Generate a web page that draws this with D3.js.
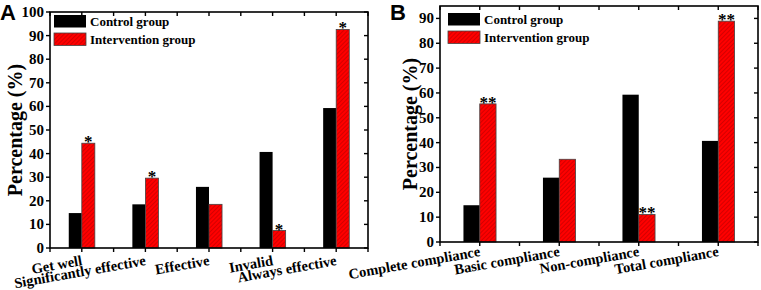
<!DOCTYPE html>
<html>
  <head>
    <style>
      body { margin: 0; background: #fff; }
      svg { display: block; }
    </style>
  </head>
  <body>
    <script src="https://d3js.org/d3.v7.min.js"></script>
    <script>
      // panel A
      const catsA = ['Get well', 'Significantly effective', 'Effective', 'Invalid', 'Always effective'];
      const controlA = [14.8, 18.5, 25.9, 40.7, 59.3];
      const interventionA = [44.4, 29.6, 18.5, 7.4, 92.6];
      const starsA = ['*', '*', '', '*', '*'];
      const ticksA = [0, 10, 20, 30, 40, 50, 60, 70, 80, 90, 100];

      // panel B
      const catsB = ['Complete compliance', 'Basic compliance', 'Non-compliance', 'Total compliance'];
      const controlB = [14.8, 25.9, 59.3, 40.7];
      const interventionB = [55.6, 33.3, 11.1, 88.9];
      const starsB = ['**', '', '**', '**'];
      const ticksB = [0, 10, 20, 30, 40, 50, 60, 70, 80, 90];

      const seriesNames = ['Control group', 'Intervention group'];

      const SERIF = '"Liberation Serif", "Times New Roman", Times, serif';
      const SANS = '"Liberation Sans", Arial, sans-serif';

      const svg = d3.select('body').append('svg')
        .attr('width', 761)
        .attr('height', 290);

      const pat = svg.append('defs').append('pattern')
        .attr('id', 'hatch')
        .attr('patternUnits', 'userSpaceOnUse')
        .attr('width', 3)
        .attr('height', 3)
        .attr('patternTransform', 'rotate(45)');
      pat.append('rect').attr('width', 3).attr('height', 3).attr('fill', '#ff0000');
      pat.append('line')
        .attr('x1', 0).attr('y1', 0).attr('x2', 0).attr('y2', 3)
        .attr('stroke', '#a00000').attr('stroke-width', 0.9);

      function txt(sel, size) {
        return sel.style('font-family', SERIF)
          .style('font-weight', 'bold')
          .style('font-size', size + 'px')
          .attr('fill', '#000');
      }

      function drawPanel(opt) {
        const { letter, cats, control, intervention, stars, ticks, yMax,
                left, right, top, bottom, labelGap, titleGap, legendX, legendY } = opt;

        const g = svg.append('g');

        const x = d3.scaleBand().domain(cats).range([left, right]).padding(0);
        const y = d3.scaleLinear().domain([0, yMax]).range([bottom, top]);
        const step = x.step();
        const bw = step * 0.205;
        const cx = c => x(c) + step / 2;

        // bars
        g.selectAll('rect.ctrl')
          .data(cats)
          .join('rect')
          .attr('class', 'ctrl')
          .attr('x', d => cx(d) - bw)
          .attr('y', (d, i) => y(control[i]))
          .attr('width', bw)
          .attr('height', (d, i) => y(0) - y(control[i]))
          .attr('fill', '#000');

        g.selectAll('rect.intv')
          .data(cats)
          .join('rect')
          .attr('class', 'intv')
          .attr('x', d => cx(d))
          .attr('y', (d, i) => y(intervention[i]))
          .attr('width', bw)
          .attr('height', (d, i) => y(0) - y(intervention[i]))
          .attr('fill', 'url(#hatch)')
          .attr('stroke', '#444')
          .attr('stroke-width', 0.8);

        txt(g.selectAll('text.star')
          .data(cats)
          .join('text')
          .attr('class', 'star')
          .attr('text-anchor', 'middle')
          .attr('x', d => cx(d) + bw / 2)
          .attr('y', (d, i) => y(intervention[i]) + 4)
          .text((d, i) => stars[i]), 17);

        // frame
        g.append('rect')
          .attr('x', left).attr('y', top)
          .attr('width', right - left).attr('height', bottom - top)
          .attr('fill', 'none').attr('stroke', '#000').attr('stroke-width', 1.6);

        // y ticks: outward on the left, inward on the right
        ticks.forEach(t => {
          g.append('line')
            .attr('x1', left - 4).attr('x2', left)
            .attr('y1', y(t)).attr('y2', y(t))
            .attr('stroke', '#000').attr('stroke-width', 1.4);
          g.append('line')
            .attr('x1', right - 4).attr('x2', right)
            .attr('y1', y(t)).attr('y2', y(t))
            .attr('stroke', '#000').attr('stroke-width', 1.4);
          txt(g.append('text')
            .attr('x', left - 6)
            .attr('y', y(t) + 5)
            .attr('text-anchor', 'end')
            .text(t), 15);
        });

        // x ticks at centres and half steps
        const xTickPos = [];
        cats.forEach(c => { xTickPos.push(x(c)); xTickPos.push(cx(c)); });
        xTickPos.push(right);
        xTickPos.forEach(p => {
          g.append('line')
            .attr('x1', p).attr('x2', p)
            .attr('y1', bottom).attr('y2', bottom + 4)
            .attr('stroke', '#000').attr('stroke-width', 1.4);
          g.append('line')
            .attr('x1', p).attr('x2', p)
            .attr('y1', top).attr('y2', top + 4)
            .attr('stroke', '#000').attr('stroke-width', 1.4);
        });

        // category labels, tilted
        txt(g.selectAll('text.cat')
          .data(cats)
          .join('text')
          .attr('class', 'cat')
          .attr('text-anchor', 'end')
          .attr('transform', d => `translate(${cx(d) + 1},${bottom + labelGap}) rotate(-10)`)
          .text(d => d), 14.5);

        // y title
        txt(g.append('text')
          .attr('text-anchor', 'middle')
          .attr('transform', `translate(${left - titleGap},${(top + bottom) / 2}) rotate(-90)`)
          .text('Percentage (%)'), 20);

        // panel letter
        g.append('text')
          .attr('x', left - 50)
          .attr('y', 20)
          .style('font-family', SANS)
          .style('font-weight', 'bold')
          .style('font-size', '22px')
          .text(letter);

        // legend
        const fills = ['#000', 'url(#hatch)'];
        seriesNames.forEach((s, i) => {
          g.append('rect')
            .attr('x', legendX)
            .attr('y', legendY + i * 18)
            .attr('width', 32)
            .attr('height', 12.5)
            .attr('fill', fills[i])
            .attr('stroke', i ? '#444' : 'none')
            .attr('stroke-width', 0.8);
          txt(g.append('text')
            .attr('x', legendX + 36)
            .attr('y', legendY + i * 18 + 11)
            .text(s), 13);
        });
      }

      drawPanel({
        letter: 'A', cats: catsA, control: controlA, intervention: interventionA,
        stars: starsA, ticks: ticksA, yMax: 100,
        left: 50, right: 368, top: 12, bottom: 248, labelGap: 17, titleGap: 28,
        legendX: 54, legendY: 15
      });

      drawPanel({
        letter: 'B', cats: catsB, control: controlB, intervention: interventionB,
        stars: starsB, ticks: ticksB, yMax: 95,
        left: 440, right: 758, top: 6, bottom: 242, labelGap: 14, titleGap: 23,
        legendX: 448, legendY: 13
      });
    </script>
  </body>
</html>
